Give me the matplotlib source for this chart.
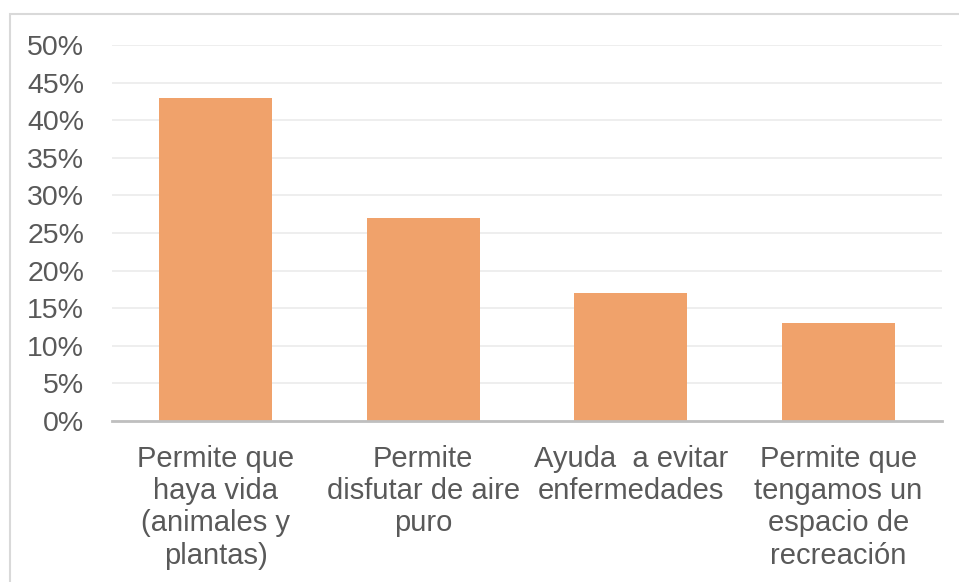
import matplotlib.pyplot as plt
from matplotlib.patches import Rectangle
from matplotlib.ticker import PercentFormatter

categorias = [
    'Permite que\nhaya vida\n(animales y\nplantas)',
    'Permite\ndisfutar de aire\npuro',
    'Ayuda  a evitar\nenfermedades',
    'Permite que\ntengamos un\nespacio de\nrecreación',
]
valores = [0.43, 0.27, 0.17, 0.13]
yticks = [0, 0.05, 0.10, 0.15, 0.20, 0.25, 0.30, 0.35, 0.40, 0.45, 0.50]

plt.rcParams['font.family'] = ['Liberation Sans', 'DejaVu Sans']
gris = '#595959'

fig = plt.figure(figsize=(9.59, 5.82), dpi=100)
fig.patch.set_facecolor('white')
# marco exterior del gráfico
fig.patches.append(Rectangle((10 / 959, -0.05), 1.2, 1 - 14 / 582 + 0.05,
                             transform=fig.transFigure, fill=False,
                             edgecolor='#d9d9d9', linewidth=1.5))

ax = fig.add_axes([112 / 959, 1 - 421 / 582, (942 - 112) / 959, (421 - 45) / 582])
x = range(len(categorias))
ax.bar(x, valores, width=0.545, color='#f0a26b', zorder=3)

ax.set_xlim(-0.5, len(categorias) - 0.5)
ax.set_ylim(0, 0.5)
ax.set_yticks(yticks)
ax.yaxis.set_major_formatter(PercentFormatter(1.0, decimals=0))
ax.set_xticks(list(x))
ax.set_xticklabels(categorias, fontsize=21, color=gris, linespacing=1.2,
                   va='top', ha='center')
ax.tick_params(axis='y', labelsize=20.5, labelcolor=gris, length=0, pad=20)
ax.tick_params(axis='x', length=0, pad=17)

ax.grid(axis='y', color='#ebebeb', linewidth=1.2, zorder=0)
for s in ['top', 'right', 'left']:
    ax.spines[s].set_visible(False)
ax.spines['bottom'].set_color('#bfbfbf')
ax.spines['bottom'].set_linewidth(2)
ax.spines['bottom'].set_zorder(4)

plt.savefig('out.png', dpi=100)
